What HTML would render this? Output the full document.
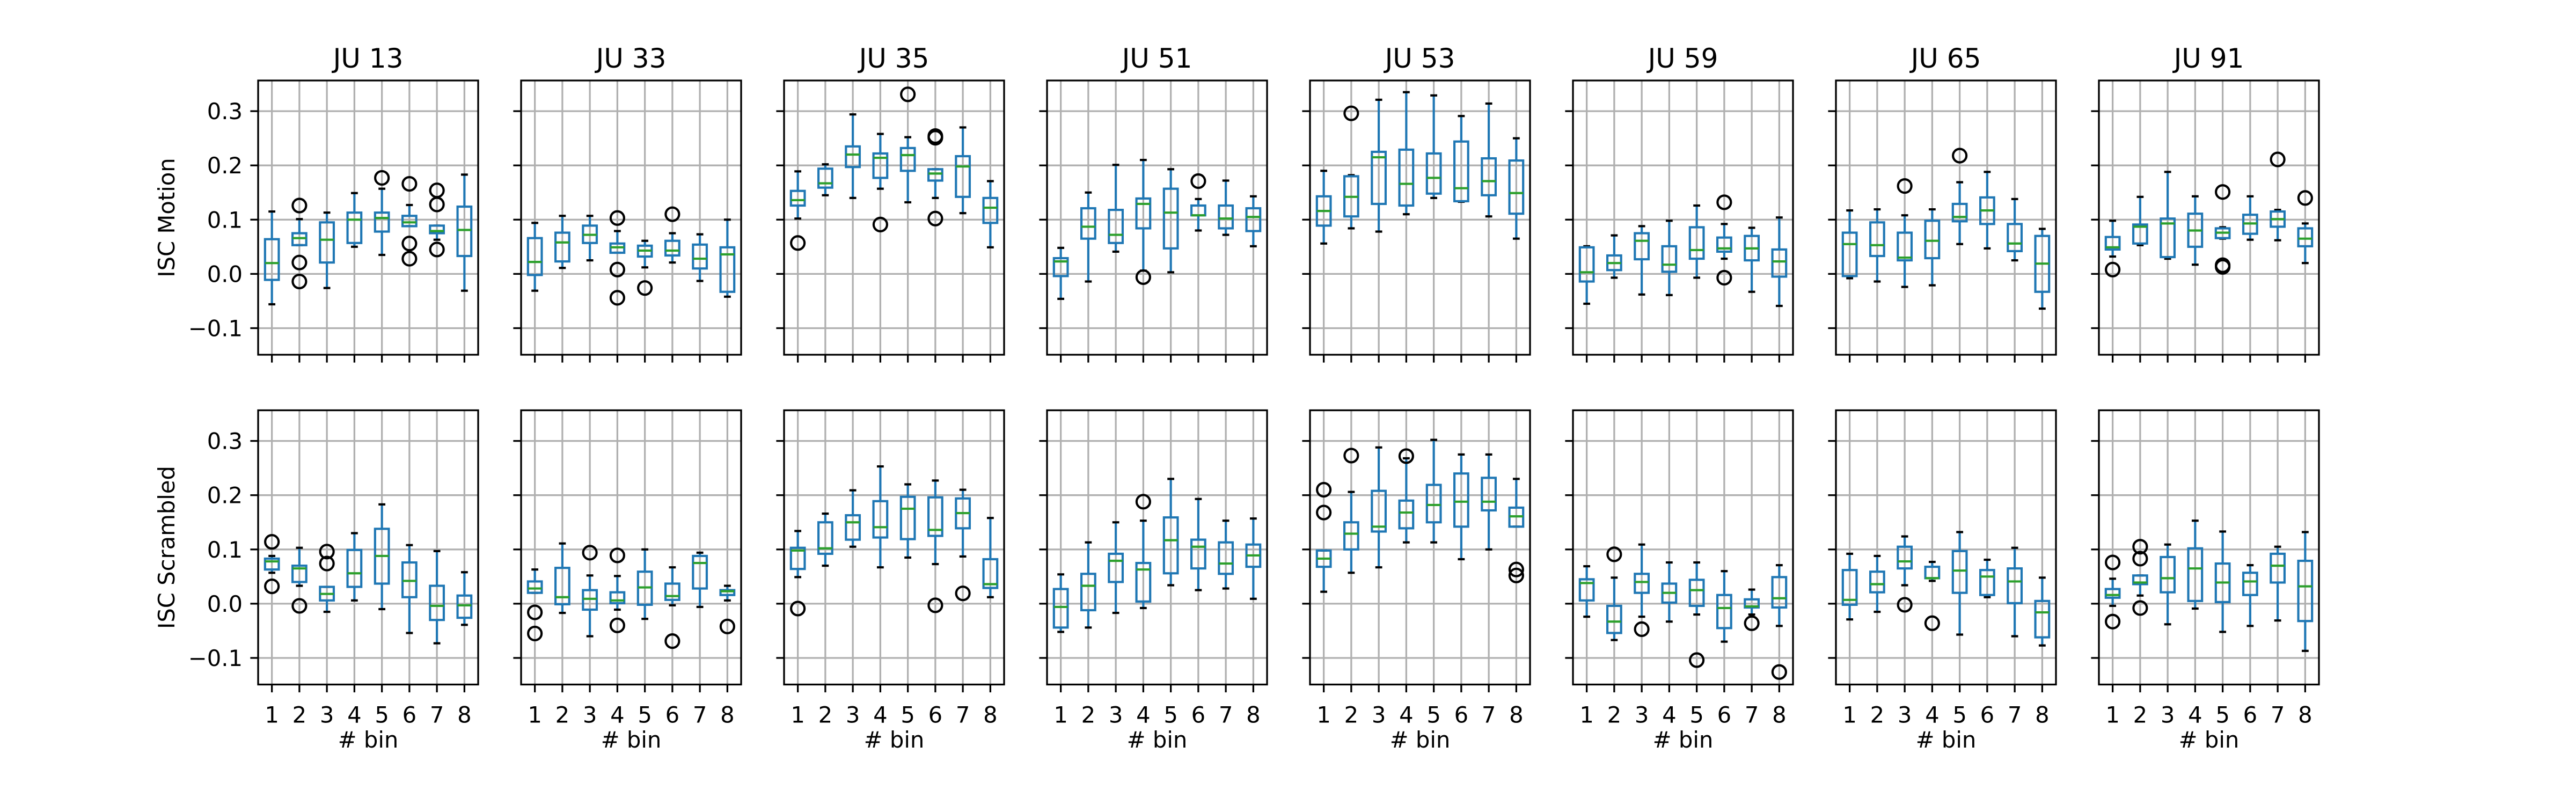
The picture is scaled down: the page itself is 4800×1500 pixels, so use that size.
<!DOCTYPE html>
<html><head><meta charset="utf-8">
<style>
html,body{margin:0;padding:0;background:#fff;}
svg{display:block;font-family:"DejaVu Sans","Liberation Sans",sans-serif;}
</style></head>
<body>
<svg id="fig" width="4800" height="1500" viewBox="0 0 4800 1500" xmlns="http://www.w3.org/2000/svg">
<rect width="4800" height="1500" fill="#fff"/>
</svg>
<script>
const panelTitles = ["JU 13","JU 33","JU 35","JU 51","JU 53","JU 59","JU 65","JU 91"];
const rowLabels = ["ISC Motion","ISC Scrambled"];
const binLabels = ["1","2","3","4","5","6","7","8"];
const yTicks = [-0.1,0.0,0.1,0.2,0.3];
const yTickLabels = ["\u22120.1","0.0","0.1","0.2","0.3"];

const whiskerLow = [
[-.056,.053,-.026,.050,.035,.088,.063,-.031],
[-.031,.011,.025,.039,.012,.021,-.013,-.042],
[.102,.145,.140,.157,.132,.140,.112,.049],
[-.046,-.014,.041,.006,.003,.080,.072,.051],
[.056,.084,.078,.110,.140,.133,.106,.065],
[-.055,-.007,-.038,-.039,-.007,.028,-.033,-.059],
[-.008,-.014,-.024,-.021,.055,.047,.025,-.064],
[.032,.053,.028,.017,.065,.063,.062,.020],
[.057,.033,-.015,.006,-.010,-.054,-.073,-.039],
[.020,-.017,-.060,-.011,-.028,-.003,-.006,.006],
[.049,.070,.105,.067,.085,.073,.087,.012],
[-.052,-.044,-.017,-.008,.034,.025,.028,.009],
[.022,.057,.067,.113,.113,.082,.100,.142],
[-.024,-.067,-.024,-.033,-.020,-.070,-.020,-.041],
[-.029,-.015,.034,.042,-.057,.012,-.060,-.077],
[-.004,.015,-.038,-.009,-.052,-.041,-.031,-.087]];
const quartile1 = [
[-.011,.053,.021,.057,.078,.088,.075,.033],
[-.002,.023,.057,.039,.032,.034,.010,-.033],
[.126,.159,.197,.177,.190,.172,.142,.094],
[-.004,.065,.057,.084,.047,.108,.084,.079],
[.089,.106,.129,.126,.148,.134,.145,.111],
[-.014,.007,.027,.004,.028,.041,.025,-.005],
[-.004,.033,.025,.029,.097,.092,.042,-.033],
[.045,.056,.031,.050,.066,.074,.087,.051],
[.063,.040,.006,.031,.037,.012,-.030,-.026],
[.020,-.001,-.011,.001,-.002,.007,.028,.016],
[.064,.092,.118,.122,.119,.125,.139,.029],
[-.044,-.012,.040,.004,.056,.065,.055,.068],
[.068,.100,.133,.139,.150,.142,.172,.142],
[.006,-.054,.020,.002,-.004,-.045,-.007,-.007],
[-.002,.021,.065,.047,.020,.016,.001,-.062],
[.011,.036,.021,.005,.003,.016,.039,-.032]];
const medians = [
[.020,.066,.063,.100,.103,.095,.079,.081],
[.022,.058,.072,.049,.043,.043,.028,.036],
[.136,.167,.220,.214,.219,.185,.198,.122],
[.023,.087,.072,.129,.113,.108,.102,.105],
[.116,.142,.215,.166,.177,.158,.171,.149],
[.003,.020,.061,.017,.044,.047,.047,.023],
[.055,.053,.030,.061,.105,.117,.056,.019],
[.049,.087,.093,.080,.076,.093,.101,.065],
[.078,.065,.018,.056,.088,.042,-.004,-.003],
[.028,.012,.009,.006,.030,.014,.075,.023],
[.098,.102,.150,.141,.175,.136,.167,.036],
[-.006,.033,.079,.063,.117,.105,.074,.089],
[.083,.129,.142,.168,.182,.188,.188,.161],
[.038,-.033,.040,.020,.025,-.008,-.005,.010],
[.007,.036,.078,.047,.061,.050,.041,-.016],
[.016,.039,.047,.065,.039,.041,.070,.032]];
const quartile3 = [
[.064,.075,.095,.113,.113,.107,.089,.124],
[.066,.076,.089,.056,.052,.061,.054,.049],
[.153,.194,.235,.222,.232,.193,.217,.140],
[.029,.121,.118,.139,.157,.126,.126,.121],
[.143,.180,.225,.229,.222,.244,.213,.209],
[.049,.034,.075,.051,.086,.067,.070,.045],
[.076,.095,.076,.098,.129,.141,.092,.070],
[.068,.091,.102,.111,.084,.109,.115,.084],
[.083,.070,.031,.099,.138,.076,.033,.015],
[.041,.066,.025,.021,.059,.037,.088,.025],
[.103,.150,.163,.189,.197,.196,.194,.082],
[.027,.055,.092,.075,.159,.118,.113,.109],
[.098,.150,.208,.190,.219,.240,.232,.177],
[.045,-.004,.055,.037,.044,.016,.008,.049],
[.062,.059,.105,.068,.097,.062,.065,.005],
[.027,.052,.086,.102,.074,.057,.092,.079]];
const whiskerHigh = [
[.115,.101,.113,.149,.157,.127,.089,.183],
[.094,.107,.107,.079,.061,.075,.073,.100],
[.189,.202,.294,.258,.252,.193,.270,.171],
[.048,.150,.201,.210,.193,.138,.172,.143],
[.190,.182,.321,.335,.329,.291,.314,.250],
[.051,.071,.088,.098,.126,.092,.085,.104],
[.117,.119,.108,.119,.169,.188,.138,.083],
[.098,.142,.188,.143,.086,.143,.118,.093],
[.088,.103,.031,.130,.183,.108,.097,.058],
[.063,.111,.052,.051,.100,.067,.094,.033],
[.134,.166,.209,.253,.220,.227,.210,.158],
[.054,.113,.150,.153,.230,.193,.153,.157],
[.098,.206,.288,.268,.302,.275,.275,.230],
[.069,.048,.109,.076,.076,.060,.026,.071],
[.092,.088,.124,.077,.132,.081,.103,.048],
[.046,.052,.109,.153,.133,.071,.105,.132]];
const outliers = [
[[],[.126,.021,-.014],[],[],[.177],[.166,.056,.028],[.154,.128,.045],[]],
[[],[],[],[.103,.008,-.044],[-.026],[.110],[],[]],
[[.057],[],[],[.091],[.331],[.254,.251,.102],[],[]],
[[],[],[],[-.006],[],[.171],[],[]],
[[],[.296],[],[],[],[],[],[]],
[[],[],[],[],[],[.132,-.007],[],[]],
[[],[],[.162],[],[.218],[],[],[]],
[[.008],[],[],[],[.151,.013,.016],[],[.211],[.140]],
[[.114,.032],[-.004],[.096,.074],[],[],[],[],[]],
[[-.016,-.055],[],[.094],[.089,-.040],[],[-.069],[],[-.042]],
[[-.009],[],[],[],[],[-.003],[.019],[]],
[[],[],[],[.188],[],[],[],[]],
[[.210,.168],[.273],[],[.272],[],[],[],[.063,.052]],
[[],[.091],[-.047],[],[-.104],[],[-.036],[-.126]],
[[],[],[-.002],[-.036],[],[],[],[]],
[[.076,-.033],[.105,.083,-.008],[],[],[],[],[],[]]];

const NS="http://www.w3.org/2000/svg";
const svg=document.getElementById('fig');
const AX_L0=481, AX_PITCH=490, AX_W=410;
const ROW_TOP=[150,764.5], AX_H=511;
const YMIN=-0.149, YMAX=0.3565;
function el(tag,attrs,parent){const e=document.createElementNS(NS,tag);for(const k in attrs)e.setAttribute(k,attrs[k]);(parent||svg).appendChild(e);return e;}
function txt(s,attrs,parent){const t=el('text',attrs,parent);t.textContent=s;return t;}

for(let r=0;r<2;r++){
  for(let c=0;c<8;c++){
    const p=r*8+c;
    const L=AX_L0+c*AX_PITCH, T=ROW_TOP[r];
    const yS=v=>T+AX_H-(v-YMIN)/(YMAX-YMIN)*AX_H;
    const xS=i=>L+(i+0.5)*AX_W/8;
    const g=el('g',{});
    
    
    yTicks.forEach(v=>{const gl=el('line',{x1:L,x2:L+AX_W,y1:yS(v),y2:yS(v),stroke:'#b0b0b0','stroke-width':3.3},g);
      });
    binLabels.forEach((b,i)=>{const gl=el('line',{x1:xS(i),x2:xS(i),y1:T,y2:T+AX_H,stroke:'#b0b0b0','stroke-width':3.3},g);
      });
    for(let i=0;i<8;i++){
      const x=xS(i), hw=AX_W/8*0.25, cw=AX_W/8*0.125;
      const bg=el('g',{},g);
      
      
      el('line',{x1:x,x2:x,y1:yS(quartile3[p][i]),y2:yS(whiskerHigh[p][i]),stroke:'#1f77b4','stroke-width':4.17},bg);
      el('line',{x1:x,x2:x,y1:yS(quartile1[p][i]),y2:yS(whiskerLow[p][i]),stroke:'#1f77b4','stroke-width':4.17},bg);
      el('line',{x1:x-cw,x2:x+cw,y1:yS(whiskerHigh[p][i]),y2:yS(whiskerHigh[p][i]),stroke:'#000','stroke-width':4.17},bg);
      el('line',{x1:x-cw,x2:x+cw,y1:yS(whiskerLow[p][i]),y2:yS(whiskerLow[p][i]),stroke:'#000','stroke-width':4.17},bg);
      const yq3=yS(quartile3[p][i]), yq1=yS(quartile1[p][i]);
      el('rect',{x:x-hw,y:yq3,width:2*hw,height:Math.max(0.5,yq1-yq3),fill:'none',stroke:'#1f77b4','stroke-width':4.17},bg);
      el('line',{x1:x-hw,x2:x+hw,y1:yS(medians[p][i]),y2:yS(medians[p][i]),stroke:'#2ca02c','stroke-width':4.17},bg);
      outliers[p][i].forEach(v=>{
        const o=el('circle',{cx:x,cy:yS(v),r:12.5,fill:'none',stroke:'#000','stroke-width':4.17},bg);
        
        
      });
    }
    const sp=el('rect',{x:L,y:T,width:AX_W,height:AX_H,fill:'none',stroke:'#000','stroke-width':3.3},g);
    
    
    yTicks.forEach((v,k)=>{
      el('line',{x1:L-14.6,x2:L,y1:yS(v),y2:yS(v),stroke:'#000','stroke-width':3.3},g);
      if(c===0){const t=txt(yTickLabels[k],{x:L-29,y:yS(v)+15,'text-anchor':'end','font-size':41.7,fill:'#000'},g);
        }
    });
    binLabels.forEach((b,i)=>{
      el('line',{x1:xS(i),x2:xS(i),y1:T+AX_H,y2:T+AX_H+14.6,stroke:'#000','stroke-width':3.3},g);
      if(r===1){const t=txt(b,{x:xS(i),y:T+AX_H+71,'text-anchor':'middle','font-size':41.7,fill:'#000'},g);
        }
    });
    if(r===0){const t=txt(panelTitles[c],{x:L+AX_W/2,y:126,'text-anchor':'middle','font-size':50,fill:'#000'},g);
      }
    if(r===1){const t=txt('# bin',{x:L+AX_W/2,y:1393,'text-anchor':'middle','font-size':41.7,fill:'#000'},g);
      }
    if(c===0){const cy=T+AX_H/2;const t=txt(rowLabels[r],{x:0,y:0,transform:'translate(325,'+cy+') rotate(-90)','text-anchor':'middle','font-size':41.7,fill:'#000'},g);
      }
  }
}
</script>
</body></html>
